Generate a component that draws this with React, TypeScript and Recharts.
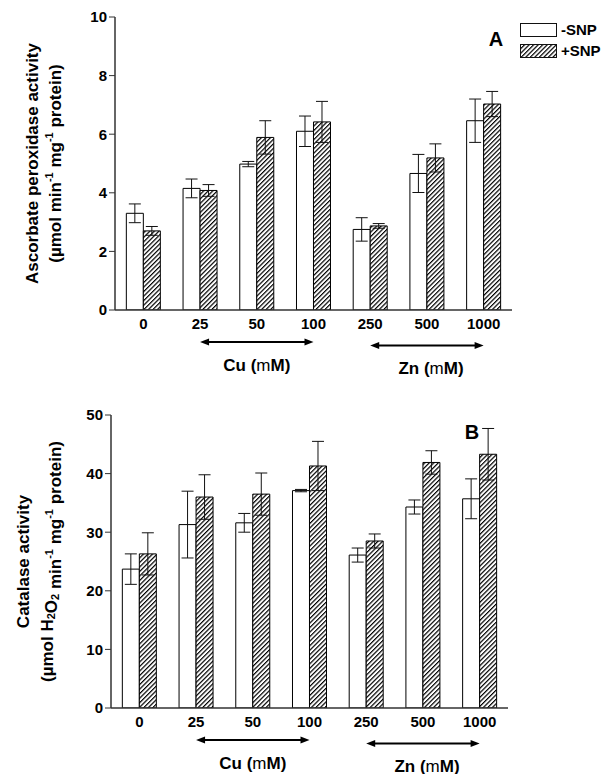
import React from 'react';
import { BarChart, Bar, XAxis, YAxis, ErrorBar, Legend } from 'recharts';

// doses (Cu: 25-100, Zn: 250-1000)
const categories = ['0', '25', '50', '100', '250', '500', '1000'];

// panel A: ascorbate peroxidase
const apxMinus = [3.3, 4.15, 4.98, 6.1, 2.75, 4.66, 6.46];
const apxMinusErr = [0.32, 0.32, 0.09, 0.52, 0.4, 0.65, 0.74];
const apxPlus = [2.7, 4.08, 5.89, 6.42, 2.87, 5.19, 7.03];
const apxPlusErr = [0.15, 0.2, 0.57, 0.7, 0.08, 0.48, 0.43];
const apxTicks = [0, 2, 4, 6, 8, 10];

// panel B: catalase
const catMinus = [23.7, 31.3, 31.6, 37.1, 26.1, 34.3, 35.7];
const catMinusErr = [2.6, 5.7, 1.6, 0.2, 1.2, 1.2, 3.4];
const catPlus = [26.3, 36.0, 36.5, 41.3, 28.5, 41.9, 43.3];
const catPlusErr = [3.6, 3.8, 3.6, 4.2, 1.2, 2.0, 4.4];
const catTicks = [0, 10, 20, 30, 40, 50];

const FONT = '"Liberation Sans", Arial, Helvetica, sans-serif';
const AXIS = '#333';
const W = 608;
const H = 392;
const TOP = 17;
const PLOT_H = 293;

function buildRows(minus: number[], minusErr: number[], plus: number[], plusErr: number[]) {
  return categories.map((dose, i) => ({
    dose,
    minus: minus[i],
    minusErr: minusErr[i],
    plus: plus[i],
    plusErr: plusErr[i],
  }));
}

function Hatch({ id }: { id: string }) {
  return (
    <pattern id={id} patternUnits="userSpaceOnUse" width={3.2} height={3.2} patternTransform="rotate(45)">
      <rect width={3.2} height={3.2} fill="#fff" />
      <line x1={0.6} y1={0} x2={0.6} y2={3.2} stroke="#000" strokeWidth={1.2} />
    </pattern>
  );
}

function LegendBox() {
  const item = (label: string, hatched: boolean) => (
    <div style={{ display: 'flex', alignItems: 'center', height: 21 }}>
      <svg width={38} height={14}>
        {hatched && (
          <defs>
            <Hatch id="hatchLegend" />
          </defs>
        )}
        <rect x={0.5} y={0.5} width={36} height={13} fill={hatched ? 'url(#hatchLegend)' : '#fff'} stroke="#111" />
      </svg>
      <span style={{ marginLeft: 3, fontFamily: FONT, fontWeight: 'bold', fontSize: 15, color: '#000' }}>{label}</span>
    </div>
  );
  return (
    <div>
      {item('-SNP', false)}
      {item('+SNP', true)}
    </div>
  );
}

function Arrow({ x1, x2, y }: { x1: number; x2: number; y: number }) {
  return (
    <g>
      <line x1={x1 + 6} x2={x2 - 6} y1={y} y2={y} stroke="#000" strokeWidth={2} />
      <polygon points={`${x1},${y} ${x1 + 9},${y - 3.5} ${x1 + 9},${y + 3.5}`} fill="#000" />
      <polygon points={`${x2},${y} ${x2 - 9},${y - 3.5} ${x2 - 9},${y + 3.5}`} fill="#000" />
    </g>
  );
}

interface PanelProps {
  id: string;
  top: number;
  left: number;
  right: number;
  rows: ReturnType<typeof buildRows>;
  ticks: number[];
  letter: string;
  letterX: number;
  letterY: number;
  showLegend?: boolean;
  titleX: [number, number];
  title1: string;
  title2: React.ReactNode;
}

function Panel({ id, top, left, right, rows, ticks, letter, letterX, letterY, showLegend, titleX, title1, title2 }: PanelProps) {
  const plotW = right - left;
  const band = plotW / categories.length;
  const cx = (i: number) => left + (i + 0.5) * band;
  const base = TOP + PLOT_H;
  const domain = [ticks[0], ticks[ticks.length - 1]];
  const tickStyle = { fontFamily: FONT, fontWeight: 'bold', fontSize: 15, fill: '#000' };
  const midY = TOP + PLOT_H / 2;

  return (
    <div style={{ position: 'absolute', left: 0, top, width: W, height: H }}>
      <BarChart
        width={W}
        height={H}
        data={rows}
        margin={{ top: TOP, right: W - right, left: 0, bottom: H - base - 30 }}
        barGap={0}
        barCategoryGap="20%"
      >
        <defs>
          <Hatch id={id} />
        </defs>
        <XAxis
          dataKey="dose"
          height={30}
          tickLine={false}
          tickSize={0}
          tickMargin={8}
          axisLine={{ stroke: AXIS, strokeWidth: 1.5 }}
          tick={tickStyle}
          interval={0}
        />
        <XAxis xAxisId="top" orientation="top" dataKey="dose" height={0} tick={false} tickLine={false} axisLine={{ stroke: AXIS, strokeWidth: 1.5 }} />
        <YAxis
          width={left}
          domain={domain}
          ticks={ticks}
          tickSize={6}
          tickMargin={2}
          axisLine={{ stroke: AXIS, strokeWidth: 1.5 }}
          tickLine={{ stroke: AXIS }}
          tick={tickStyle}
          allowDataOverflow
        />
        <YAxis
          yAxisId="right"
          orientation="right"
          width={0}
          domain={domain}
          ticks={ticks}
          tick={false}
          tickSize={4}
          axisLine={{ stroke: AXIS, strokeWidth: 1.5 }}
          tickLine={{ stroke: AXIS }}
        />
        {showLegend && (
          <Legend
            layout="horizontal"
            verticalAlign="middle"
            align="center"
            wrapperStyle={{ left: 520, top: 19, width: 90, height: 44 }}
            content={() => <LegendBox />}
          />
        )}
        <Bar dataKey="minus" name="-SNP" fill="#fff" stroke="#000" strokeWidth={1} isAnimationActive={false}>
          <ErrorBar dataKey="minusErr" width={6} stroke="#111" strokeWidth={1} direction="y" />
        </Bar>
        <Bar dataKey="plus" name="+SNP" fill={`url(#${id})`} stroke="#000" strokeWidth={1} isAnimationActive={false}>
          <ErrorBar dataKey="plusErr" width={6} stroke="#111" strokeWidth={1} direction="y" />
        </Bar>
      </BarChart>
      <svg width={W} height={H} style={{ position: 'absolute', left: 0, top: 0, pointerEvents: 'none' }}>
        <text x={letterX} y={letterY} textAnchor="middle" dominantBaseline="central" fontFamily={FONT} fontWeight="bold" fontSize={20}>
          {letter}
        </text>
        <g fontFamily={FONT} fontWeight="bold" fontSize={17} fill="#000">
          <text transform={`translate(${titleX[0]},${midY}) rotate(-90)`} textAnchor="middle" dominantBaseline="central">
            {title1}
          </text>
          <text transform={`translate(${titleX[1]},${midY}) rotate(-90)`} textAnchor="middle" dominantBaseline="central">
            {title2}
          </text>
        </g>
        <Arrow x1={cx(1)} x2={cx(3)} y={base + 32} />
        <Arrow x1={cx(4)} x2={cx(6)} y={base + 35.5} />
        <g fontFamily={FONT} fontWeight="bold" fontSize={17} fill="#000" textAnchor="middle" dominantBaseline="central">
          <text x={cx(2)} y={base + 55}>
            Cu (<tspan fontWeight="normal">m</tspan>M)
          </text>
          <text x={left + 316} y={base + 58}>
            Zn (<tspan fontWeight="normal">m</tspan>M)
          </text>
        </g>
      </svg>
    </div>
  );
}

export default function App() {
  const apxRows = buildRows(apxMinus, apxMinusErr, apxPlus, apxPlusErr);
  const catRows = buildRows(catMinus, catMinusErr, catPlus, catPlusErr);
  const sup = (s: string) => (
    <>
      <tspan dy={-6} fontSize={11}>{s}</tspan>
      <tspan dy={6}> </tspan>
    </>
  );
  const sub = (s: string) => (
    <>
      <tspan dy={4} fontSize={11}>{s}</tspan>
      <tspan dy={-4}></tspan>
    </>
  );
  return (
    <div style={{ position: 'absolute', left: 0, top: 0, width: W, height: 774, background: '#fff' }}>
      <Panel
        id="hatchA"
        top={0}
        left={115}
        right={512}
        rows={apxRows}
        ticks={apxTicks}
        letter="A"
        letterX={496}
        letterY={TOP + 22}
        showLegend
        titleX={[32, 55]}
        title1="Ascorbate peroxidase activity"
        title2={
          <>
            (µmol min{sup('-1')}mg{sup('-1')}protein)
          </>
        }
      />
      <Panel
        id="hatchB"
        top={398}
        left={111}
        right={508}
        rows={catRows}
        ticks={catTicks}
        letter="B"
        letterX={472}
        letterY={TOP + 17}
        titleX={[23, 47]}
        title1="Catalase activity"
        title2={
          <>
            (µmol H{sub('2')}O{sub('2')} min{sup('-1')}mg{sup('-1')}protein)
          </>
        }
      />
    </div>
  );
}
